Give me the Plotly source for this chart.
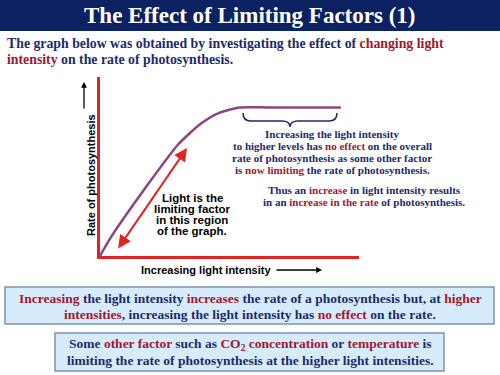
import plotly.graph_objects as go

W, H = 500, 375

# Data: light intensity vs rate of photosynthesis (arbitrary units)
light_intensity = [0.0, 0.4, 1.7, 3.0, 3.9, 4.6, 5.4, 6.5, 9.3]
photosynthesis_rate = [0.0, 1.0, 3.7, 6.2, 7.4, 8.0, 8.3, 8.3, 8.3]

NAVY = "#1c2b6b"
RED = "#a3172f"
BAR = "#0c2162"
SERIF = "Liberation Serif, Times New Roman, DejaVu Serif, serif"
SANS = "Liberation Sans, Arial, sans-serif"


def px(x):
    return x / W


def py(y):
    return 1 - y / H


def red(s):
    return f"<span style='color:{RED}'>{s}</span>"


fig = go.Figure()
fig.add_trace(go.Scatter(
    x=light_intensity, y=photosynthesis_rate, mode="lines",
    line=dict(color="#8b4585", width=2.5, shape="spline", smoothing=0.6),
    hoverinfo="skip", showlegend=False,
))

axis_common = dict(showline=True, linecolor="#e02424", linewidth=3,
                   showgrid=False, zeroline=False, showticklabels=False,
                   ticks="", fixedrange=True)
fig.update_layout(
    width=W, height=H, margin=dict(l=0, r=0, t=0, b=0),
    paper_bgcolor="white", plot_bgcolor="rgba(0,0,0,0)",
    xaxis=dict(domain=[px(100), px(359)], range=[0, 10], **axis_common),
    yaxis=dict(domain=[py(256), py(77)], range=[0, 10], **axis_common),
    showlegend=False,
)

shapes = []
# Title bar
shapes.append(dict(type="rect", xref="paper", yref="paper", x0=0, x1=1,
                   y0=py(31), y1=1, fillcolor=BAR, line=dict(width=0), layer="below"))
# Boxes
for (x0, y0, x1, y1) in [(5, 287, 494, 324), (55, 333, 444, 371)]:
    shapes.append(dict(type="rect", xref="paper", yref="paper",
                       x0=px(x0), x1=px(x1), y0=py(y1), y1=py(y0),
                       fillcolor="#d6ecfc", line=dict(color="#7d93ad", width=1.5),
                       layer="below"))
# Curly brace under plateau
pts = [("M", [(243, 113)]), ("Q", [(243, 121), (251, 121)]), ("L", [(282, 121)]),
       ("Q", [(290, 121), (290, 127)]), ("Q", [(290, 121), (298, 121)]),
       ("L", [(329, 121)]), ("Q", [(337, 121), (337, 113)])]
path = " ".join(c + " " + " ".join(f"{px(a):.4f},{py(b):.4f}" for a, b in p) for c, p in pts)
shapes.append(dict(type="path", xref="paper", yref="paper", path=path,
                   line=dict(color=NAVY, width=1.5)))
fig.update_layout(shapes=shapes)


def txt(x, y, text, size, family=SERIF, color=NAVY, xanchor="center"):
    fig.add_annotation(x=px(x), y=py(y), xref="paper", yref="paper", text=text,
                       showarrow=False, xanchor=xanchor, yanchor="middle",
                       font=dict(family=family, size=size, color=color))


# Title
txt(250, 16, "<b>The Effect of Limiting Factors (1)</b>", 23, color="white")
# Intro
txt(5, 43, "<b>The graph below was obtained by investigating the effect of "
    + red("changing light") + "</b>", 13.8, xanchor="left")
txt(5, 59, "<b>" + red("intensity") + " on the rate of photosynthesis.</b>", 13.8, xanchor="left")

# Right-hand explanation
for y, t in [(134, "Increasing the light intensity"),
             (146, "to higher levels has " + red("no effect") + " on the overall"),
             (158, "rate of photosynthesis as some other factor"),
             (170, "is " + red("now limiting") + " the rate of photosynthesis.")]:
    txt(332, y, "<b>" + t + "</b>", 11)
for y, t in [(190, "Thus an " + red("increase") + " in light intensity results"),
             (202, "in an " + red("increase in the rate") + " of photosynthesis.")]:
    txt(364, y, "<b>" + t + "</b>", 11)

# Left region label
for y, t in [(198, "Light is the"), (209, "limiting factor"),
             (220, "in this region"), (231, "of the graph.")]:
    txt(192, y, "<b>" + t + "</b>", 11.5, family=SANS, color="black")

# Axis labels
fig.add_annotation(x=px(83), y=py(175), xref="paper", yref="paper",
                   text="<b>Rate of photosynthesis</b>", showarrow=False, textangle=-90,
                   font=dict(family=SANS, size=11, color="black"))
fig.add_annotation(x=px(84), y=py(82), xref="paper", yref="paper", text="",
                   showarrow=True, ax=0, ay=28, arrowhead=2, arrowsize=0.9,
                   arrowwidth=1.3, arrowcolor="black")
txt(206, 270, "<b>Increasing light intensity</b>", 11, family=SANS, color="black")
fig.add_annotation(x=px(322), y=py(270), xref="paper", yref="paper", text="",
                   showarrow=True, ax=-47, ay=0, arrowhead=2, arrowsize=0.9,
                   arrowwidth=1.3, arrowcolor="black")

# Double-headed red arrow along linear region
fig.add_annotation(x=3.36, y=6.03, ax=0.66, ay=0.34, xref="x", yref="y",
                   axref="x", ayref="y", text="", showarrow=True,
                   arrowside="end+start", arrowhead=2, startarrowhead=2,
                   arrowsize=1.3, startarrowsize=1.3, arrowwidth=2,
                   arrowcolor="#e02424")

# Bottom boxes text
txt(250, 298, "<b>" + red("Increasing") + " the light intensity " + red("increases")
    + " the rate of a photosynthesis but, at " + red("higher") + "</b>", 13.5)
txt(250, 314, "<b>" + red("intensities") + ", increasing the light intensity has "
    + red("no effect") + " on the rate.</b>", 13.5)
txt(250, 344, "<b>Some " + red("other factor") + " such as " + red("CO<sub>2</sub> concentration")
    + " or " + red("temperature") + " is</b>", 13.5)
txt(250, 360, "<b>limiting the rate of photosynthesis at the higher light intensities.</b>", 13.5)

fig.write_html("out.html", post_script="document.body.style.margin='0';",
               config={"displayModeBar": False})
